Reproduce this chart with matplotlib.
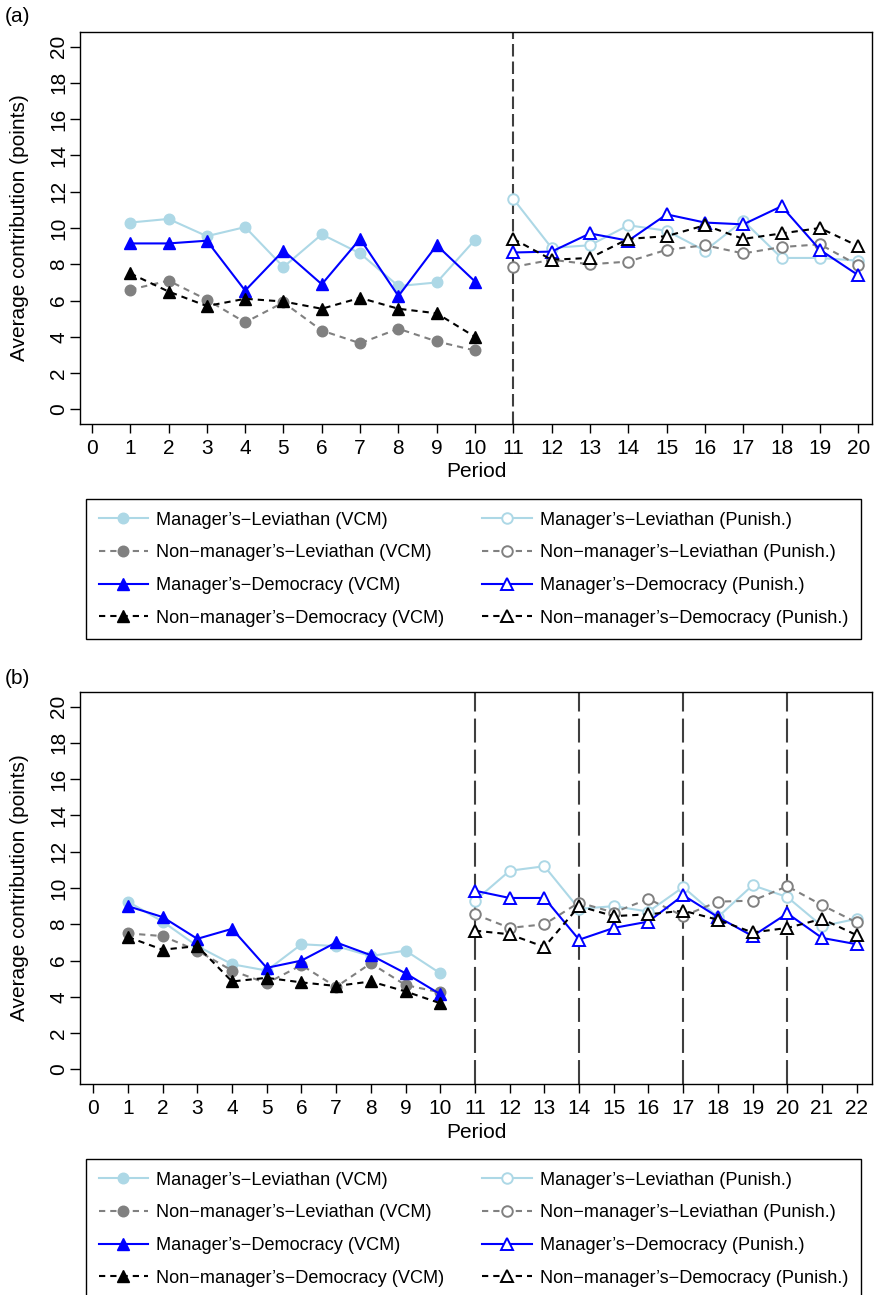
import matplotlib
matplotlib.use("Agg")
import matplotlib.pyplot as plt

plt.rcParams['font.family'] = ['Liberation Sans', 'DejaVu Sans']

# ---- panel (a) ----
a_vcm_periods = [1, 2, 3, 4, 5, 6, 7, 8, 9, 10]
a_pun_periods = [11, 12, 13, 14, 15, 16, 17, 18, 19, 20]
a_breaks = [11]

a_mgr_lev_vcm = [10.3, 10.5, 9.55, 10.05, 7.85, 9.65, 8.6, 6.8, 7.0, 9.35]
a_non_lev_vcm = [6.6, 7.1, 6.05, 4.8, 5.9, 4.35, 3.65, 4.45, 3.75, 3.25]
a_mgr_dem_vcm = [9.15, 9.15, 9.3, 6.55, 8.75, 6.9, 9.4, 6.25, 9.05, 7.05]
a_non_dem_vcm = [7.5, 6.5, 5.7, 6.1, 5.95, 5.55, 6.15, 5.55, 5.3, 4.0]

a_mgr_lev_pun = [11.6, 8.9, 9.05, 10.15, 9.85, 8.75, 10.4, 8.35, 8.35, 8.2]
a_non_lev_pun = [7.85, 8.25, 8.0, 8.15, 8.8, 9.05, 8.6, 8.95, 9.1, 7.95]
a_mgr_dem_pun = [8.65, 8.7, 9.7, 9.3, 10.75, 10.3, 10.2, 11.2, 8.8, 7.4]
a_non_dem_pun = [9.4, 8.25, 8.35, 9.4, 9.55, 10.15, 9.4, 9.7, 10.0, 9.0]

# ---- panel (b) ----
b_vcm_periods = [1, 2, 3, 4, 5, 6, 7, 8, 9, 10]
b_pun_periods = [11, 12, 13, 14, 15, 16, 17, 18, 19, 20, 21, 22]
b_breaks = [11, 14, 17, 20]

b_mgr_lev_vcm = [9.25, 8.15, 6.8, 5.8, 5.45, 6.9, 6.8, 6.25, 6.55, 5.3]
b_non_lev_vcm = [7.5, 7.35, 6.55, 5.45, 4.75, 5.75, 4.55, 5.85, 4.65, 4.25]
b_mgr_dem_vcm = [9.0, 8.4, 7.2, 7.75, 5.6, 6.0, 7.0, 6.3, 5.3, 4.15]
b_non_dem_vcm = [7.3, 6.6, 6.8, 4.85, 5.05, 4.8, 4.6, 4.85, 4.3, 3.65]

b_mgr_lev_pun = [9.3, 10.95, 11.2, 8.85, 9.0, 8.7, 10.05, 8.4, 10.15, 9.5, 7.9, 8.3]
b_non_lev_pun = [8.55, 7.8, 8.0, 9.2, 8.65, 9.4, 8.45, 9.25, 9.3, 10.1, 9.05, 8.1]
b_mgr_dem_pun = [9.85, 9.45, 9.45, 7.15, 7.8, 8.15, 9.6, 8.4, 7.35, 8.6, 7.25, 6.9]
b_non_dem_pun = [7.65, 7.45, 6.75, 9.0, 8.45, 8.55, 8.75, 8.25, 7.55, 7.8, 8.3, 7.4]

labels_vcm = ["Manager\u2019s\u2212Leviathan (VCM)",
              "Non\u2212manager\u2019s\u2212Leviathan (VCM)",
              "Manager\u2019s\u2212Democracy (VCM)",
              "Non\u2212manager\u2019s\u2212Democracy (VCM)"]
labels_pun = ["Manager\u2019s\u2212Leviathan (Punish.)",
              "Non\u2212manager\u2019s\u2212Leviathan (Punish.)",
              "Manager\u2019s\u2212Democracy (Punish.)",
              "Non\u2212manager\u2019s\u2212Democracy (Punish.)"]

LIGHT = "#ADD8E6"
GRAY = "#808080"
BLUE = "#0000FF"
BLACK = "#000000"
DASH = (0, (3.0, 2.4))

# color, linestyle, marker for the four groups
styles = [
    (LIGHT, "-", "o"),
    (GRAY, DASH, "o"),
    (BLUE, "-", "^"),
    (BLACK, DASH, "^"),
]

W, H = 875, 1295
fig = plt.figure(figsize=(W / 100, H / 100), dpi=100)


def px_axes(left, top, right, bottom):
    return fig.add_axes([left / W, 1 - bottom / H, (right - left) / W, (bottom - top) / H])


def draw_panel(ax, vcm_x, pun_x, vcm_series, pun_series, breaks, xmax, xlim, vdash):
    handles_v, handles_p = [], []
    for (color, ls, mk), y in zip(styles, vcm_series):
        ms = 8.4 if mk == "^" else 7.6
        h, = ax.plot(vcm_x, y, color=color, linestyle=ls, lw=1.5, marker=mk,
                     markersize=ms, markerfacecolor=color, markeredgecolor=color, zorder=3)
        handles_v.append(h)
    for (color, ls, mk), y in zip(styles, pun_series):
        ms = 8.4 if mk == "^" else 7.6
        h, = ax.plot(pun_x, y, color=color, linestyle=ls, lw=1.5, marker=mk,
                     markersize=ms, markerfacecolor="white", markeredgecolor=color,
                     markeredgewidth=1.4, zorder=3)
        handles_p.append(h)
    for b in breaks:
        ax.axvline(b, color="#3f3f3f", lw=1.5, linestyle=vdash, zorder=2)

    ax.set_xlim(*xlim)
    ax.set_ylim(-0.8, 20.8)
    ax.set_xticks(range(0, xmax + 1))
    ax.set_yticks(range(0, 21, 2))
    ax.tick_params(axis="x", length=6.5, width=1.0, pad=4.0, labelsize=15)
    ax.tick_params(axis="y", length=7.0, width=1.0, pad=1.5, labelsize=15, labelrotation=90)
    for lab in ax.get_yticklabels():
        lab.set_va("center")
    for s in ax.spines.values():
        s.set_linewidth(1.0)

    ax.set_xlabel("Period", fontsize=15)
    ax.xaxis.set_label_coords(0.5, -48 / 392)
    ax.xaxis.label.set_va("center")
    ax.set_ylabel("Average contribution (points)", fontsize=15)
    ax.yaxis.set_label_coords(-60 / 792, 0.5)
    ax.yaxis.label.set_va("center")
    return handles_v + handles_p


def add_legend(ax, handles, top):
    leg = ax.legend(handles, labels_vcm + labels_pun, ncol=2,
                    loc="upper left", bbox_to_anchor=(86 / W, 1 - top / H),
                    bbox_transform=fig.transFigure,
                    fontsize=13.1, frameon=True, fancybox=False, shadow=False,
                    edgecolor="black", framealpha=1, borderpad=0.7,
                    labelspacing=0.86, handlelength=2.7, handletextpad=0.45,
                    columnspacing=2.1, borderaxespad=0)
    leg.get_frame().set_linewidth(1.0)


ax_a = px_axes(80, 32, 872, 424)
hs = draw_panel(ax_a, a_vcm_periods, a_pun_periods,
                [a_mgr_lev_vcm, a_non_lev_vcm, a_mgr_dem_vcm, a_non_dem_vcm],
                [a_mgr_lev_pun, a_non_lev_pun, a_mgr_dem_pun, a_non_dem_pun],
                a_breaks, 20, (-0.31, 20.36), (0, (6.0, 2.4)))
add_legend(ax_a, hs, 499)

ax_b = px_axes(80, 692, 872, 1084)
hs = draw_panel(ax_b, b_vcm_periods, b_pun_periods,
                [b_mgr_lev_vcm, b_non_lev_vcm, b_mgr_dem_vcm, b_non_dem_vcm],
                [b_mgr_lev_pun, b_non_lev_pun, b_mgr_dem_pun, b_non_dem_pun],
                b_breaks, 22, (-0.38, 22.44), (0, (11.5, 3.4)))
add_legend(ax_b, hs, 1159)

fig.text(5 / W, 1 - 17 / H, "(a)", fontsize=15, ha="left", va="center")
fig.text(5 / W, 1 - 678 / H, "(b)", fontsize=15, ha="left", va="center")

fig.savefig("out.png", dpi=100)
